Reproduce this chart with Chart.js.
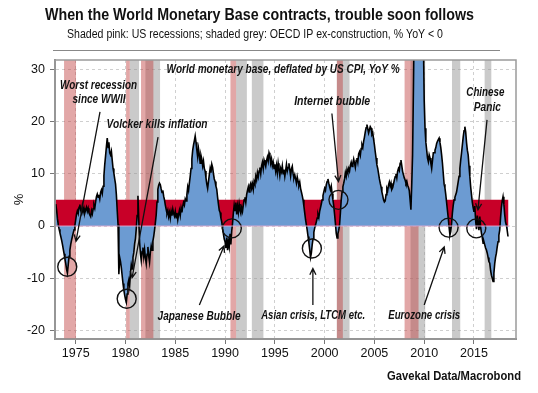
<!DOCTYPE html>
<html>
<head>
<meta charset="utf-8">
<script src="https://cdn.jsdelivr.net/npm/chart.js@4.4.1/dist/chart.umd.min.js"></script>
<style>
  html, body { margin: 0; padding: 0; background: #fff; }
</style>
</head>
<body>
<canvas id="myChart" width="538" height="393"></canvas>
<script>
// World monetary base deflated by US CPI, YoY %, monthly from Jan 1973
const firstYear = 1973;
const monetaryBase = [
  4.2, 3.0, 1.4, 0.2, -0.6, -1.3, -2.0, -2.7, -3.5, -4.4, -5.3, -6.3,        // 1973
  -7.2, -8.3, -9.0, -7.4, -5.8, -4.6, -3.5, -2.7, -2.0, -1.3, -0.7, 0.1,     // 1974
  1.2, 2.3, 2.9, 2.4, 3.6, 4.1, 3.0, 2.5, 3.8, 2.7, 3.4, 2.5,                // 1975
  3.1, 3.6, 2.8, 3.4, 2.5, 2.1, 1.8, 2.9, 2.3, 3.3, 4.0, 3.4,                // 1976
  4.6, 5.6, 6.1, 5.5, 6.0, 5.2, 6.4, 6.9, 6.2, 7.6, 9.6, 11.8,               // 1977
  13.4, 15.2, 16.8, 15.0, 16.0, 14.0, 13.6, 14.3, 12.6, 11.0, 10.1, 9.0,     // 1978
  8.0, 6.0, 3.0, 0.3, -9.2, -6.0, -6.8, -8.0, -9.5, -11.0, -12.2, -13.2,     // 1979
  -14.0, -14.6, -13.0, -11.0, -10.3, -11.4, -9.0, -7.4, -8.2, -6.0, -5.1, -3.4, // 1980
  -2.4, -0.5, 2.0, 5.8, 1.0, -3.1, -5.3, -6.6, -4.9, -4.1, -5.9, -4.5,       // 1981
  -6.1, -7.2, -5.4, -4.0, -5.8, -6.9, -5.0, -3.8, -4.6, -2.9, -2.0, -0.8,    // 1982
  0.6, 2.1, 4.6, 7.0, 7.8, 8.2, 7.9, 7.1, 6.4, 6.8, 5.7, 5.0,                // 1983
  4.0, 3.2, 2.4, 3.0, 1.8, 2.6, 1.5, 2.8, 2.0, 3.2, 2.4, 1.9,                // 1984
  2.8, 1.6, 2.5, 1.2, 2.2, 3.0, 2.0, 3.4, 2.6, 3.8, 4.5, 4.0,                // 1985
  5.2, 4.8, 6.0, 7.5, 6.8, 8.2, 9.5, 11.0, 12.8, 14.5, 15.5, 16.3,           // 1986
  17.2, 16.0, 14.5, 13.2, 14.8, 13.6, 12.0, 13.5, 12.8, 11.5, 12.4, 11.0,    // 1987
  10.5, 9.2, 8.0, 7.2, 8.5, 9.8, 11.0, 10.2, 11.8, 11.2, 10.0, 9.0,          // 1988
  8.5, 7.6, 7.0, 5.5, 4.2, 3.0, 2.6, 1.5, 0.8, -0.5, -1.5, -2.5,             // 1989
  -3.0, -4.2, -2.2, -4.6, -3.0, -4.0, -1.5, -3.5, -1.0, 0.5, 2.5, 4.0,       // 1990
  3.0, 4.5, 2.2, 3.8, 2.6, 4.2, 3.0, 2.4, 3.5, 2.8, 4.0, 5.0,                // 1991
  5.5, 4.5, 6.0, 6.8, 7.5, 6.5, 7.8, 8.2, 7.2, 8.0, 7.0, 8.5,                // 1992
  8.0, 9.5, 8.8, 10.2, 9.4, 10.5, 11.2, 10.0, 11.5, 12.2, 11.0, 12.6,        // 1993
  12.0, 11.4, 12.5, 13.2, 12.4, 14.0, 13.5, 12.0, 12.8, 11.5, 12.2, 11.0,    // 1994
  11.8, 10.5, 11.6, 10.2, 12.0, 10.8, 9.6, 11.0, 10.4, 11.5, 10.0, 10.8,     // 1995
  9.5, 10.6, 11.8, 10.5, 11.2, 12.0, 10.8, 9.6, 10.9, 11.4, 10.0, 9.2,       // 1996
  9.8, 9.0, 8.2, 9.4, 8.6, 7.8, 8.4, 7.2, 6.5, 5.8, 5.0, 3.8,                // 1997
  2.5, 1.2, 0.2, -0.8, -2.0, -3.2, -4.5, -6.0, -5.2, -3.6, -2.5, -1.2,       // 1998
  -0.4, 0.2, 0.8, 1.5, 2.2, 1.6, 2.8, 3.5, 4.2, 5.0, 5.8, 6.5,               // 1999
  7.2, 6.8, 7.9, 8.5, 9.0, 8.2, 7.5, 6.9, 7.6, 6.2, 5.0, 3.8,                // 2000
  2.2, 0.5, -1.4, -2.3, -1.5, -0.8, 0.2, 2.5, 5.0, 6.5, 7.5, 8.2,            // 2001
  9.0, 10.2, 9.5, 10.8, 10.2, 11.0, 10.5, 11.6, 12.2, 11.4, 12.0, 12.8,      // 2002
  12.0, 11.2, 12.5, 13.0, 12.2, 13.8, 14.2, 13.5, 14.8, 15.5, 15.0, 16.2,    // 2003
  17.0, 18.0, 18.8, 19.4, 18.6, 17.8, 18.4, 19.0, 18.7, 17.5, 17.8, 16.6,    // 2004
  15.5, 14.2, 13.0, 11.7, 11.0, 10.0, 9.0, 8.2, 7.5, 6.5, 5.8, 5.0,          // 2005
  4.6, 4.8, 6.0, 7.2, 6.8, 7.8, 8.4, 7.6, 8.2, 7.0, 7.3, 8.0,                // 2006
  8.8, 9.4, 10.0, 9.2, 10.5, 11.0, 10.6, 12.0, 12.6, 11.5, 10.4, 9.8,        // 2007
  9.2, 8.8, 8.2, 8.6, 7.8, 7.4, 6.8, 5.0, 3.1, 8.0, 13.6, 26.0,              // 2008
  40.0, 52.0, 60.0, 64.0, 62.0, 60.0, 56.0, 52.0, 48.0, 44.0, 40.0, 36.0,    // 2009
  24.0, 18.7, 16.0, 14.5, 13.0, 12.3, 13.6, 13.0, 12.0, 11.0, 12.5, 14.0,    // 2010
  14.0, 14.5, 15.0, 15.8, 16.2, 16.5, 16.8, 16.0, 15.0, 13.6, 12.0, 10.0,    // 2011
  8.0, 7.3, 6.0, 4.5, 3.0, 1.5, -0.2, -1.7, -1.0, 0.5, 2.5, 4.0,             // 2012
  5.0, 5.5, 6.0, 6.5, 7.5, 8.5, 9.5, 11.0, 12.6, 14.0, 15.5, 17.0,           // 2013
  18.2, 19.0, 18.0, 16.0, 14.5, 13.6, 11.5, 9.5, 7.5, 6.0, 4.5, 3.5,         // 2014
  2.7, 3.8, 1.0, -0.6, 2.0, 0.4, -0.8, 1.8, -0.2, -1.4, -2.2, -3.3,          // 2015
  -3.0, -3.6, -4.2, -4.6, -5.2, -6.0, -6.8, -7.1, -8.5, -9.4, -10.0, -10.6,  // 2016
  -9.0, -7.2, -6.0, -5.2, -4.0, -3.0, -1.8, -0.8, 1.5, 3.5, 4.8, 5.6,        // 2017
  4.2, 2.2, 0.8, 0.2, -0.8, -2.0                                             // 2018
];
const dates = monetaryBase.map((v, i) => firstYear + i / 12);

// red zone: 0 to 5 %
const warnLevel = 5;

// shaded periods, decimal years
const usRecessions = [[1973.83, 1975.03], [1980.06, 1980.43], [1981.56, 1982.8], [1990.54, 1991.11], [2001.23, 2001.83], [2008.03, 2009.43]];
const oecdIpContraction = [[1980.43, 1981.36], [1982.0, 1983.47], [1991.11, 1992.19], [1992.69, 1993.85], [2001.23, 2002.5], [2008.63, 2010.1], [2012.79, 2013.62], [2016.07, 2016.74]];

// circled troughs
const troughYears = [1974.15, 1980.12, 1990.68, 1998.72, 2001.39, 2012.45, 2015.23];
const troughValues = [-7.8, -13.9, -0.45, -4.3, 5.0, -0.3, -0.45];

const xTicks = [1975, 1980, 1985, 1990, 1995, 2000, 2005, 2010, 2015];
const yTicks = [-20, -10, 0, 10, 20, 30];

const FONT = '"Liberation Sans", Arial, sans-serif';

// annotation texts (data units, w = text width in px) and arrows
const notes = [
  { text: 'World monetary base, deflated by US CPI, YoY %', x: 1995.83, y: 29.83, w: 233, size: 12.5 },
  { text: 'Worst recession', x: 1977.3, y: 26.8, w: 77, size: 12 },
  { text: 'since WWII', x: 1977.34, y: 24.1, w: 53, size: 12 },
  { text: 'Volcker kills inflation', x: 1983.17, y: 19.3, w: 101, size: 12 },
  { text: 'Internet bubble', x: 2000.76, y: 23.7, w: 76, size: 12 },
  { text: 'Chinese', x: 2016.14, y: 25.4, w: 38, size: 12 },
  { text: 'Panic', x: 2016.34, y: 22.6, w: 27, size: 12 },
  { text: 'Japanese Bubble', x: 1987.39, y: -17.4, w: 83, size: 12 },
  { text: 'Asian crisis, LTCM etc.', x: 1998.85, y: -17.2, w: 104, size: 12 },
  { text: 'Eurozone crisis', x: 2010.0, y: -17.2, w: 72, size: 12 }
];
const arrows = [
  [[1977.44, 21.8], [1975.03, -2.9]],
  [[1983.27, 17.0], [1980.66, -9.9]],
  [[2000.73, 21.5], [2001.39, 8.5]],
  [[1987.42, -15.1], [1989.9, -3.8]],
  [[1998.82, -15.1], [1998.82, -8.1]],
  [[2010.0, -15.1], [2012.01, -4.0]],
  [[2016.31, 20.3], [2015.4, 3.1]]
];

// draw text squeezed to a given width (the original uses a condensed face)
function fitText(ctx, text, x, y, font, width, align) {
  ctx.save();
  ctx.font = font;
  const sx = width / ctx.measureText(text).width;
  ctx.translate(x, y);
  ctx.scale(sx, 1);
  ctx.textAlign = align || 'center';
  ctx.textBaseline = 'middle';
  ctx.fillText(text, 0, 0);
  ctx.restore();
}

const bandsPlugin = {
  id: 'bands',
  beforeDatasetsDraw(chart) {
    const { ctx, chartArea: a, scales: { x } } = chart;
    ctx.save();
    ctx.beginPath();
    ctx.rect(a.left, a.top, a.width, a.height);
    ctx.clip();
    const paint = (ranges, color) => ranges.forEach(([s, e]) => {
      const x0 = x.getPixelForValue(s);
      const x1 = x.getPixelForValue(e);
      ctx.fillStyle = color;
      ctx.fillRect(x0, a.top, x1 - x0, a.height);
    });
    paint(oecdIpContraction, 'rgba(150,150,150,0.5)');
    paint(usRecessions, 'rgba(190,60,60,0.45)');
    ctx.restore();
  }
};

const notesPlugin = {
  id: 'notes',
  afterDatasetsDraw(chart) {
    const { ctx, chartArea: a, scales: { x, y } } = chart;
    ctx.save();
    // zero line
    ctx.strokeStyle = 'rgba(225,170,210,0.9)';
    ctx.lineWidth = 1;
    ctx.beginPath();
    ctx.moveTo(a.left, y.getPixelForValue(0));
    ctx.lineTo(x.getPixelForValue(dates[dates.length - 1]) + 2, y.getPixelForValue(0));
    ctx.stroke();

    // frame
    ctx.strokeStyle = '#9a9a9a';
    ctx.lineWidth = 1.5;
    ctx.strokeRect(a.left, a.top, a.width, a.height);

    ctx.fillStyle = '#111';
    notes.forEach(n => fitText(ctx, n.text, x.getPixelForValue(n.x), y.getPixelForValue(n.y),
      'italic bold ' + n.size + 'px ' + FONT, n.w));

    ctx.strokeStyle = '#111';
    ctx.lineWidth = 1.3;
    arrows.forEach(([p, q]) => {
      const x0 = x.getPixelForValue(p[0]), y0 = y.getPixelForValue(p[1]);
      const x1 = x.getPixelForValue(q[0]), y1 = y.getPixelForValue(q[1]);
      const ang = Math.atan2(y1 - y0, x1 - x0);
      ctx.beginPath();
      ctx.moveTo(x0, y0);
      ctx.lineTo(x1, y1);
      ctx.moveTo(x1 - 7 * Math.cos(ang - 0.45), y1 - 7 * Math.sin(ang - 0.45));
      ctx.lineTo(x1, y1);
      ctx.lineTo(x1 - 7 * Math.cos(ang + 0.45), y1 - 7 * Math.sin(ang + 0.45));
      ctx.stroke();
    });
    ctx.restore();
  },
  afterDraw(chart) {
    const { ctx } = chart;
    ctx.save();
    ctx.fillStyle = '#111';
    fitText(ctx, 'When the World Monetary Base contracts, trouble soon follows', 259.5, 16,
      'bold 16px ' + FONT, 429);
    fitText(ctx, 'Shaded pink: US recessions; shaded grey: OECD IP ex-construction, % YoY < 0', 255, 35,
      '12.5px ' + FONT, 376);
    ctx.strokeStyle = '#888';
    ctx.lineWidth = 1;
    ctx.beginPath();
    ctx.moveTo(53, 50.5);
    ctx.lineTo(500, 50.5);
    ctx.stroke();
    fitText(ctx, 'Gavekal Data/Macrobond', 521, 376, 'bold 13px ' + FONT, 134, 'right');
    ctx.restore();
  }
};

const ctx = document.getElementById('myChart').getContext('2d');
new Chart(ctx, {
  type: 'line',
  data: {
    datasets: [{
      label: 'Troughs',
      data: troughYears.map((t, i) => ({ x: t, y: troughValues[i] })),
      showLine: false,
      pointRadius: 9.5,
      pointBorderColor: '#111',
      pointBorderWidth: 1.4,
      pointBackgroundColor: 'rgba(0,0,0,0)',
      order: 0
    }, {
      label: 'World monetary base, deflated by US CPI, YoY %',
      data: dates.map((d, i) => ({ x: d, y: monetaryBase[i] })),
      borderColor: '#000',
      borderWidth: 1.6,
      pointRadius: 0,
      tension: 0,
      fill: 'origin',
      backgroundColor: 'rgb(108,155,210)',
      order: 1
    }, {
      label: 'Zone',
      data: [{ x: dates[0], y: warnLevel }, { x: dates[dates.length - 1] + 0.05, y: warnLevel }],
      borderWidth: 0,
      pointRadius: 0,
      fill: 'origin',
      backgroundColor: 'rgb(200,0,40)',
      order: 2
    }]
  },
  options: {
    responsive: false,
    animation: false,
    devicePixelRatio: 1,
    events: [],
    layout: { padding: { left: 0, right: 22, top: 60, bottom: 0 } },
    plugins: {
      legend: { display: false },
      tooltip: { enabled: false },
      title: { display: false }
    },
    scales: {
      x: {
        type: 'linear',
        min: 1972.92,
        max: 2019.22,
        afterFit: s => { s.height = 54; },
        afterBuildTicks: s => { s.ticks = xTicks.map(v => ({ value: v })); },
        grid: { color: '#cfcfcf', lineWidth: 1, tickLength: 5, tickColor: '#777' },
        border: { color: '#888', width: 2, dash: [3, 3] },
        ticks: {
          autoSkip: false, maxRotation: 0, padding: 2, color: '#111',
          font: { family: FONT, size: 12.5 },
          callback: v => String(v)
        }
      },
      y: {
        min: -21.6,
        max: 31.74,
        afterFit: s => { s.width = 55; },
        afterBuildTicks: s => { s.ticks = yTicks.map(v => ({ value: v })); },
        grid: { color: '#cfcfcf', lineWidth: 1, tickLength: 5, tickColor: '#777' },
        border: { color: '#888', width: 2, dash: [3, 3] },
        ticks: { padding: 5, color: '#111', font: { family: FONT, size: 12.5 } },
        title: {
          display: true, text: '%', color: '#111',
          font: { family: FONT, size: 13 }, padding: { top: 12, bottom: 0 }
        }
      }
    }
  },
  plugins: [bandsPlugin, notesPlugin]
});
</script>
</body>
</html>
